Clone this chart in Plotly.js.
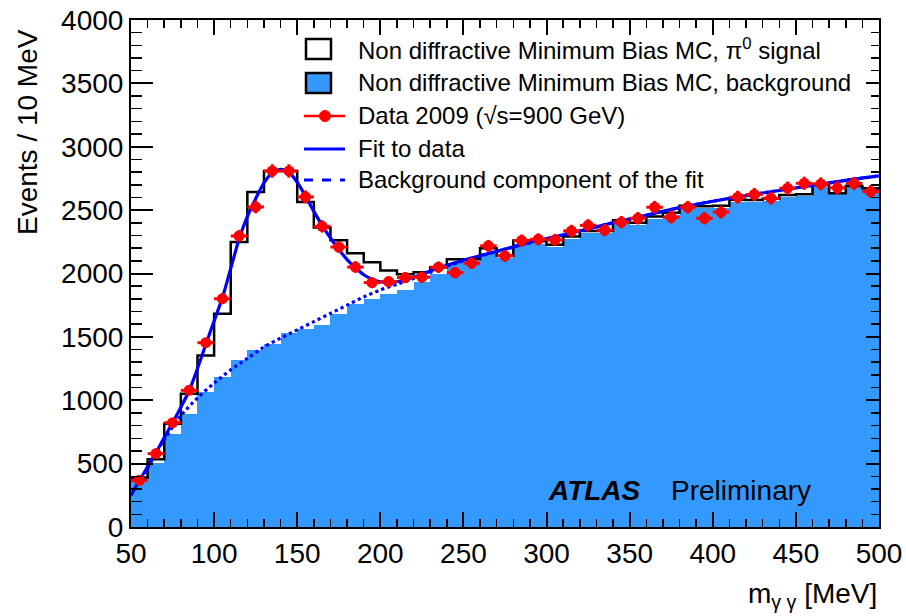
<!DOCTYPE html>
<html>
<head>
<meta charset="utf-8">
<script src="https://cdn.plot.ly/plotly-3.0.1.min.js"></script>
<style>html,body{margin:0;padding:0;background:#fff;}#chart{width:906px;height:616px;}</style>
</head>
<body>
<div id="chart"></div>
<script>
// ---- data ----
const binCenters = [55,65,75,85,95,105,115,125,135,145,155,165,175,185,195,205,215,225,235,245,255,265,275,285,295,305,315,325,335,345,355,365,375,385,395,405,415,425,435,445,455,465,475,485,495];
const mcTotal = [390,535,815,1052,1354,1683,2249,2643,2809,2809,2564,2362,2262,2160,2089,2023,1995,2010,2050,2113,2113,2200,2140,2260,2255,2226,2291,2336,2336,2420,2400,2449,2480,2534,2530,2534,2581,2580,2590,2620,2625,2699,2634,2691,2673];
const mcBackground = [385,505,730,894,1065,1183,1315,1399,1446,1531,1565,1591,1683,1762,1800,1839,1871,1935,2000,2080,2095,2160,2120,2230,2230,2210,2270,2320,2320,2400,2385,2430,2465,2520,2515,2520,2565,2565,2575,2605,2610,2685,2625,2680,2665];
const dataCounts = [368,579,823,1078,1454,1801,2296,2525,2809,2809,2604,2372,2209,2051,1928,1936,1968,1971,2050,2007,2081,2218,2139,2260,2270,2265,2336,2380,2342,2405,2436,2523,2444,2523,2436,2484,2602,2624,2594,2673,2712,2707,2676,2710,2647];
const fitX = [50,55,60,65,70,75,80,85,90,95,100,105,110,115,120,125,130,135,140,145,150,155,160,165,170,175,180,185,190,195,200,205,210,215,220,230,240,250,260,270,280,290,300,320,340,360,380,400,420,440,460,480,500];
const fitY = [252,365,475,585,705,822,945,1075,1250,1440,1625,1810,2040,2270,2450,2590,2715,2795,2822,2800,2720,2610,2490,2380,2280,2190,2110,2045,1990,1955,1935,1928,1935,1950,1970,2020,2065,2105,2140,2175,2210,2245,2275,2335,2400,2460,2520,2570,2615,2655,2695,2735,2770];
const bgFitX = [50,60,70,80,90,100,110,120,130,140,150,160,170,180,190,200,210,220,230,240,250,260,270,280,290,300,320,340,360,380,400,420,440,460,480,500];
const bgFitY = [250,465,690,878,1018,1135,1240,1330,1420,1490,1555,1620,1685,1750,1815,1870,1915,1960,2010,2058,2100,2138,2173,2208,2243,2273,2335,2400,2460,2520,2570,2615,2655,2695,2735,2770];
const binWidth = 10;
const xTickVals = [50,100,150,200,250,300,350,400,450,500];
const yTickVals = [0,500,1000,1500,2000,2500,3000,3500,4000];
const legendLabels = [
  "Non diffractive Minimum Bias MC, π<sup>0</sup> signal",
  "Non diffractive Minimum Bias MC, background",
  "Data 2009 (√s=900 GeV)",
  "Fit to data",
  "Background component of the fit"
];

// ---- colours / styles ----
const BLUE_FILL = '#3399ff';
const RED = '#ff0000';
const FIT_BLUE = '#0000ff';
const FONT = 'Liberation Sans, Arial, Helvetica, sans-serif';

// step outline of total MC built from bin edges
const edges = binCenters.map(c => c - binWidth/2).concat([binCenters[binCenters.length-1] + binWidth/2]);
const totalStep = mcTotal.concat([mcTotal[mcTotal.length-1]]);

const traces = [
  {type:'bar', x:binCenters, y:mcBackground, width:binWidth, marker:{color:BLUE_FILL, line:{width:0}}, showlegend:false, hoverinfo:'skip'},
  {type:'scatter', mode:'lines', x:edges, y:totalStep, line:{shape:'hv', color:'#000', width:2.5}, showlegend:false, hoverinfo:'skip'},
  {type:'scatter', mode:'lines', x:bgFitX, y:bgFitY, line:{shape:'spline', smoothing:0.8, color:FIT_BLUE, width:3.2, dash:'dot'}, showlegend:false},
  {type:'scatter', mode:'lines', x:fitX, y:fitY, line:{shape:'spline', smoothing:0.8, color:FIT_BLUE, width:3.2}, showlegend:false},
  {type:'scatter', mode:'markers', x:binCenters, y:dataCounts,
   marker:{color:RED, size:11, symbol:'circle'},
   error_x:{type:'constant', value:binWidth/2, color:RED, thickness:3, width:0},
   error_y:{type:'sqrt', color:RED, thickness:3, width:0},
   showlegend:false},
  {type:'scatter', x:[], y:[], yaxis:'y2', showlegend:false, hoverinfo:'skip'}
];

// pixel helpers for the hand-drawn legend / labels (plot area 131..879 x 20..527)
const L = 131, R = 879, T = 20, B = 527;
const px = v => (v - L) / (R - L);
const py = v => (B - v) / (B - T);

const rowY = [49, 83, 116, 149, 180];
const shapes = [];
shapes.push({type:'rect', xref:'paper', yref:'paper', x0:px(306), x1:px(331), y0:py(rowY[0]-10), y1:py(rowY[0]+10), line:{color:'#000', width:2.5}, fillcolor:'#fff'});
shapes.push({type:'rect', xref:'paper', yref:'paper', x0:px(306), x1:px(331), y0:py(rowY[1]-10), y1:py(rowY[1]+10), line:{color:'#000', width:2.5}, fillcolor:BLUE_FILL});
shapes.push({type:'line', xref:'paper', yref:'paper', x0:px(304), x1:px(345), y0:py(rowY[2]), y1:py(rowY[2]), line:{color:RED, width:2.5}});
shapes.push({type:'circle', xref:'paper', yref:'paper', x0:px(319.5), x1:px(330.5), y0:py(rowY[2]-5.5), y1:py(rowY[2]+5.5), line:{color:RED, width:1}, fillcolor:RED});
shapes.push({type:'line', xref:'paper', yref:'paper', x0:px(304), x1:px(345), y0:py(rowY[3]), y1:py(rowY[3]), line:{color:FIT_BLUE, width:3}});
shapes.push({type:'line', xref:'paper', yref:'paper', x0:px(304), x1:px(345), y0:py(rowY[4]), y1:py(rowY[4]), line:{color:FIT_BLUE, width:3, dash:'dash'}});

const annotations = legendLabels.map((t, i) => ({
  xref:'paper', yref:'paper', x:px(356), y:py(rowY[i]), xanchor:'left', yanchor:'middle',
  text:t, showarrow:false, font:{family:FONT, size:24, color:'#000'}
}));
annotations.push({xref:'paper', yref:'paper', x:px(546), y:py(490), xanchor:'left', yanchor:'middle', text:'<b><i>ATLAS</i></b>', showarrow:false, font:{family:FONT, size:28, color:'#000'}});
annotations.push({xref:'paper', yref:'paper', x:px(669), y:py(490), xanchor:'left', yanchor:'middle', text:'Preliminary', showarrow:false, font:{family:FONT, size:28, color:'#000'}});
annotations.push({xref:'paper', yref:'paper', x:1, y:py(595), xanchor:'right', yanchor:'middle', text:'m<sub>γ γ</sub> [MeV]', showarrow:false, font:{family:FONT, size:28, color:'#000'}});
annotations.push({xref:'paper', yref:'paper', x:px(28), y:py(27), xanchor:'center', yanchor:'top', textangle:-90, text:'Events / 10 MeV', showarrow:false, font:{family:FONT, size:28, color:'#000'}});

const layout = {
  width:906, height:616,
  margin:{l:L, r:906-R, t:T, b:616-B, pad:0},
  paper_bgcolor:'#fff', plot_bgcolor:'#fff',
  font:{family:FONT, color:'#000'},
  showlegend:false,
  bargap:0,
  xaxis:{range:[50,500], tickmode:'array', tickvals:xTickVals, ticks:'inside', ticklen:15, tickwidth:2, tickcolor:'#000',
         minor:{dtick:10, tick0:50, ticks:'inside', ticklen:8, tickwidth:1.5, tickcolor:'#000'},
         showline:true, linewidth:2, linecolor:'#000', mirror:'ticks', showgrid:false, zeroline:false,
         tickfont:{family:FONT, size:28, color:'#000'}},
  yaxis:{range:[0,4000], tickmode:'array', tickvals:yTickVals, ticks:'inside', ticklen:22, tickwidth:2, tickcolor:'#000',
         minor:{dtick:100, tick0:0, ticks:'inside', ticklen:11, tickwidth:1.5, tickcolor:'#000'},
         showline:true, linewidth:2, linecolor:'#000', mirror:true, showgrid:false, zeroline:false,
         tickfont:{family:FONT, size:28, color:'#000'}},
  yaxis2:{range:[0,4000], overlaying:'y', side:'right', tickmode:'array', tickvals:yTickVals, ticks:'inside', ticklen:13, tickwidth:2, tickcolor:'#000',
         minor:{dtick:100, tick0:0, ticks:'inside', ticklen:8, tickwidth:1.5, tickcolor:'#000'},
         showticklabels:false, showline:false, showgrid:false, zeroline:false},
  shapes:shapes,
  annotations:annotations
};

Plotly.newPlot('chart', traces, layout, {displayModeBar:false, staticPlot:true});
</script>
</body>
</html>
